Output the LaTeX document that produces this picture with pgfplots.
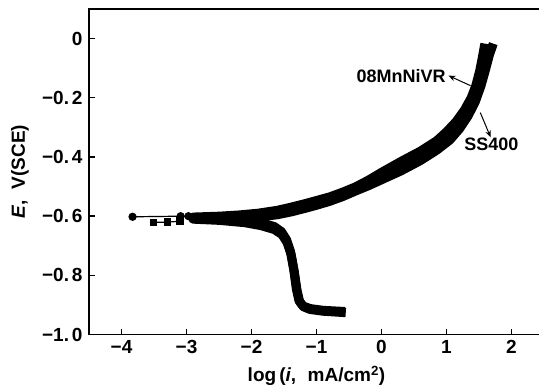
\documentclass[border=0pt]{standalone}
\usepackage{pgfplots}
\pgfplotsset{compat=1.18}
\usepackage{fontspec}
\setmainfont{Liberation Sans}
\usetikzlibrary{arrows.meta}

\begin{document}
\begin{tikzpicture}
\begin{axis}[name=ax,
 width=455pt, height=325.6pt, scale only axis,
 xmin=-4.5, xmax=2.5, ymin=-1.0, ymax=0.1,
 xtick={-4,-3,-2,-1,0,1,2},
 xticklabels={−4,−3,−2,−1,0,1,2},
 ytick={-1,-0.8,-0.6,-0.4,-0.2,0},
 yticklabels={−1.\hspace{0.15em}0,−0.\hspace{0.15em}8,−0.\hspace{0.15em}6,−0.\hspace{0.15em}4,−0.\hspace{0.15em}2,0},
 tick pos=left, tick align=inside,
 major tick length=6pt,
 axis line style={line width=1.6pt},
 every tick/.style={line width=1.4pt, black},
 ticklabel style={font=\fontsize{19}{22}\selectfont\bfseries},
 yticklabel style={xshift=-3pt},
 xticklabel style={yshift=-2pt},
 label style={font=\fontsize{19}{22}\selectfont\bfseries},
 xlabel={log\,(\textit{i},\hspace{0.6em}mA/cm\textsuperscript{2})},
 ylabel={\textit{E},\hspace{0.6em}V(SCE)},
 xlabel style={at={(axis description cs:0.5,-0.126)},anchor=center},
 ylabel style={at={(axis description cs:-0.1516,0.5)},anchor=center},
]
% 08MnNiVR
\addplot[black, line width=9pt, line join=round] coordinates {
(-0.56,-0.922) (-0.9,-0.918) (-1.1,-0.912) (-1.21,-0.903) (-1.27,-0.885) (-1.31,-0.845)
(-1.35,-0.78) (-1.40,-0.72) (-1.46,-0.68) (-1.54,-0.652) (-1.65,-0.635) (-1.85,-0.622)
(-2.1,-0.614) (-2.5,-0.609) (-2.9,-0.606) (-2.9,-0.603) (-2.5,-0.600) (-2.2,-0.596)
(-1.9,-0.590) (-1.6,-0.580) (-1.4,-0.570) (-1.2,-0.559) (-1.0,-0.547) (-0.8,-0.535)
(-0.6,-0.519) (-0.4,-0.501) (-0.2,-0.478) (0.0,-0.452) (0.3,-0.415) (0.6,-0.38)
(0.85,-0.345) (1.0,-0.315) (1.15,-0.28) (1.28,-0.24) (1.38,-0.2) (1.45,-0.16)
(1.51,-0.11) (1.555,-0.06) (1.59,-0.017)
};
\addplot[black, line width=1.2pt, mark=*, mark size=3.5pt] coordinates {
(-3.83,-0.602) (-3.09,-0.600) (-2.97,-0.600)
};
% SS400
\addplot[black, line width=9pt, line join=round] coordinates {
(-0.55,-0.926) (-0.9,-0.921) (-1.1,-0.915) (-1.2,-0.906) (-1.26,-0.888) (-1.30,-0.85)
(-1.34,-0.79) (-1.39,-0.73) (-1.45,-0.69) (-1.53,-0.662) (-1.65,-0.645) (-1.85,-0.632)
(-2.1,-0.622) (-2.5,-0.614) (-2.9,-0.61) (-2.9,-0.608) (-2.5,-0.607) (-2.2,-0.606)
(-1.9,-0.603) (-1.6,-0.595) (-1.4,-0.586) (-1.2,-0.575) (-1.0,-0.563) (-0.8,-0.550)
(-0.6,-0.534) (-0.4,-0.515) (-0.2,-0.497) (0.0,-0.477) (0.3,-0.447) (0.6,-0.412)
(0.85,-0.377) (1.05,-0.343) (1.2,-0.305) (1.33,-0.262) (1.44,-0.215) (1.53,-0.16)
(1.6,-0.105) (1.66,-0.055) (1.72,-0.017)
};
\addplot[black, line width=1.2pt, mark=square*, mark size=3.2pt] coordinates {
(-3.51,-0.621) (-3.29,-0.620) (-3.1,-0.617)
};
\draw[-{Stealth[length=7pt,width=5.5pt]}, line width=1pt] (axis cs:1.37,-0.159) -- (axis cs:1.03,-0.125);
\node[font=\fontsize{18}{21}\selectfont\bfseries, anchor=east, inner sep=0pt] at (axis cs:0.99,-0.125) {08MnNiVR};
\draw[-{Stealth[length=7pt,width=5.5pt]}, line width=1pt] (axis cs:1.52,-0.25) -- (axis cs:1.68,-0.334);
\node[font=\fontsize{18}{21}\selectfont\bfseries, inner sep=0pt] at (axis cs:1.69,-0.358) {SS400};
\end{axis}
\pgfresetboundingbox
\useasboundingbox ([xshift=-89pt,yshift=-53pt]ax.south west) rectangle ([xshift=450pt,yshift=9pt]ax.north west);
\end{tikzpicture}
\end{document}
